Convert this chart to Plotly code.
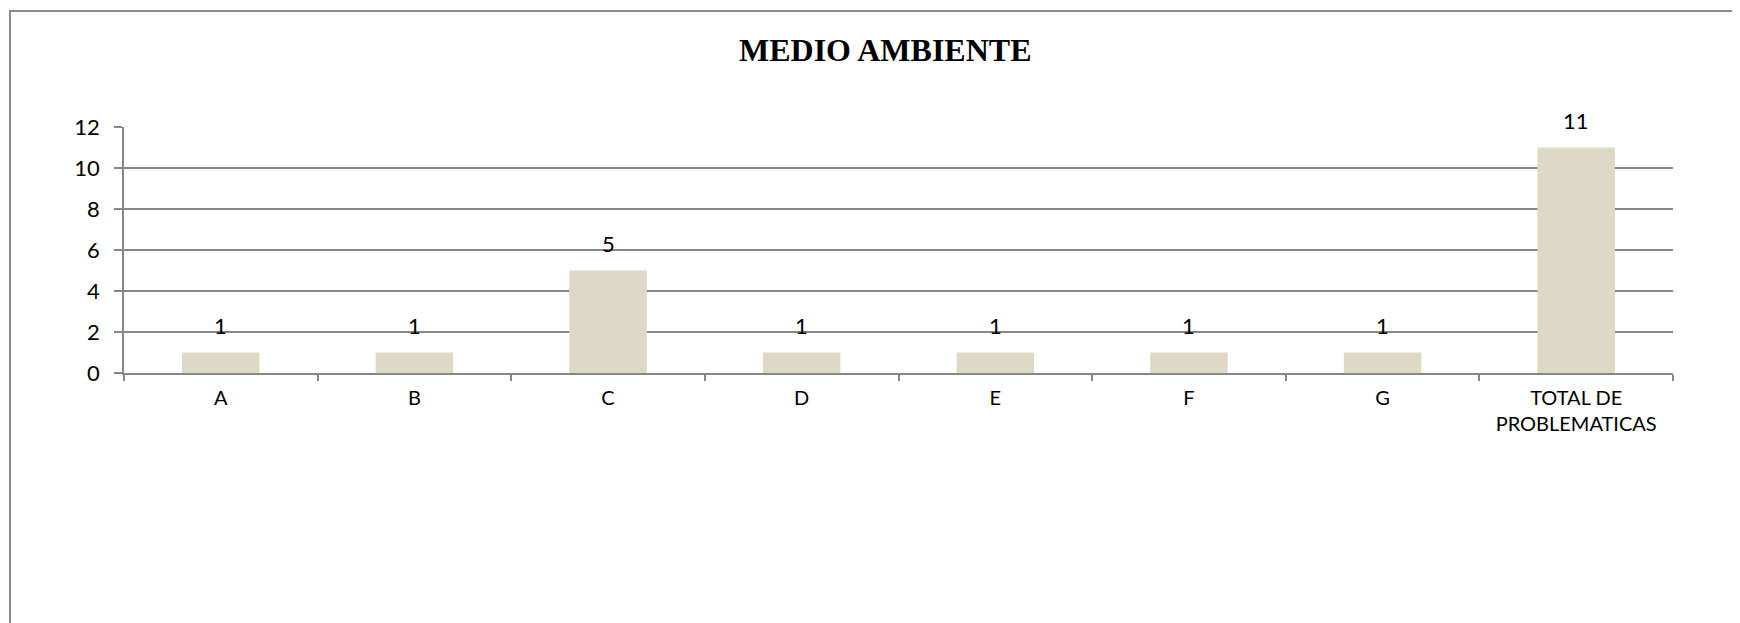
import plotly.graph_objects as go

categories = ["A", "B", "C", "D", "E", "F", "G", "TOTAL DE<br>PROBLEMATICAS"]
values = [1, 1, 5, 1, 1, 1, 1, 11]
y_ticks = [0, 2, 4, 6, 8, 10, 12]
title_text = "MEDIO AMBIENTE"

GRID = "#878787"
BAR = "#DDD9C4"
FONT = "Lato"

# page body has an 8px default margin; compensate in the figure geometry
OFF = 8
W, H = 1740 - OFF, 623 - OFF
L, R, T, B = 124 - OFF, 67, 127 - OFF, 250
PW = W - L - R
PH = H - T - B

fig = go.Figure()
fig.add_trace(go.Bar(
    x=categories, y=values,
    marker=dict(color=BAR, line=dict(width=0)),
    hoverinfo="skip",
))

for c, v in zip(categories, values):
    fig.add_annotation(
        x=c, y=v, text=str(v), showarrow=False,
        yanchor="bottom", yshift=12,
        font=dict(family=FONT, size=22, color="#000000"),
    )

fig.add_annotation(
    xref="paper", yref="paper", x=(885 - OFF - L) / PW, y=1,
    yshift=77, text="<b>" + title_text + "</b>", showarrow=False,
    xanchor="center", yanchor="middle",
    font=dict(family="Liberation Serif", size=32, color="#000000"),
)

# chart-area border (extends beyond right and bottom edges of the view)
fig.add_shape(
    type="rect", xref="paper", yref="paper",
    x0=(10 - OFF - L) / PW, x1=(1900 - L) / PW,
    y0=-(800) / PH, y1=(H - B - (11 - OFF)) / PH,
    line=dict(color="#8C8C8C", width=2), layer="below",
)

fig.update_layout(
    width=W, height=H,
    margin=dict(l=L, r=R, t=T, b=B),
    paper_bgcolor="white", plot_bgcolor="white",
    bargap=0.6, showlegend=False,
    font=dict(family=FONT, color="#000000"),
)
fig.update_xaxes(
    type="category", showline=True, linecolor=GRID, linewidth=1.5,
    ticks="outside", tickson="boundaries", ticklen=6, tickcolor=GRID, tickwidth=1.5,
    tickfont=dict(family=FONT, size=20, color="#000000"),
    ticklabelstandoff=6,
    showgrid=False, fixedrange=True,
)
fig.update_yaxes(
    range=[0, 12], tickvals=y_ticks, showline=True, linecolor=GRID, linewidth=1.5,
    ticks="outside", ticklen=8, tickcolor=GRID, tickwidth=1.5,
    showgrid=True, gridcolor=GRID, gridwidth=1.5, zeroline=False,
    tickfont=dict(family=FONT, size=22, color="#000000"),
    ticklabelstandoff=10,
)

fig.write_html("out.html")
